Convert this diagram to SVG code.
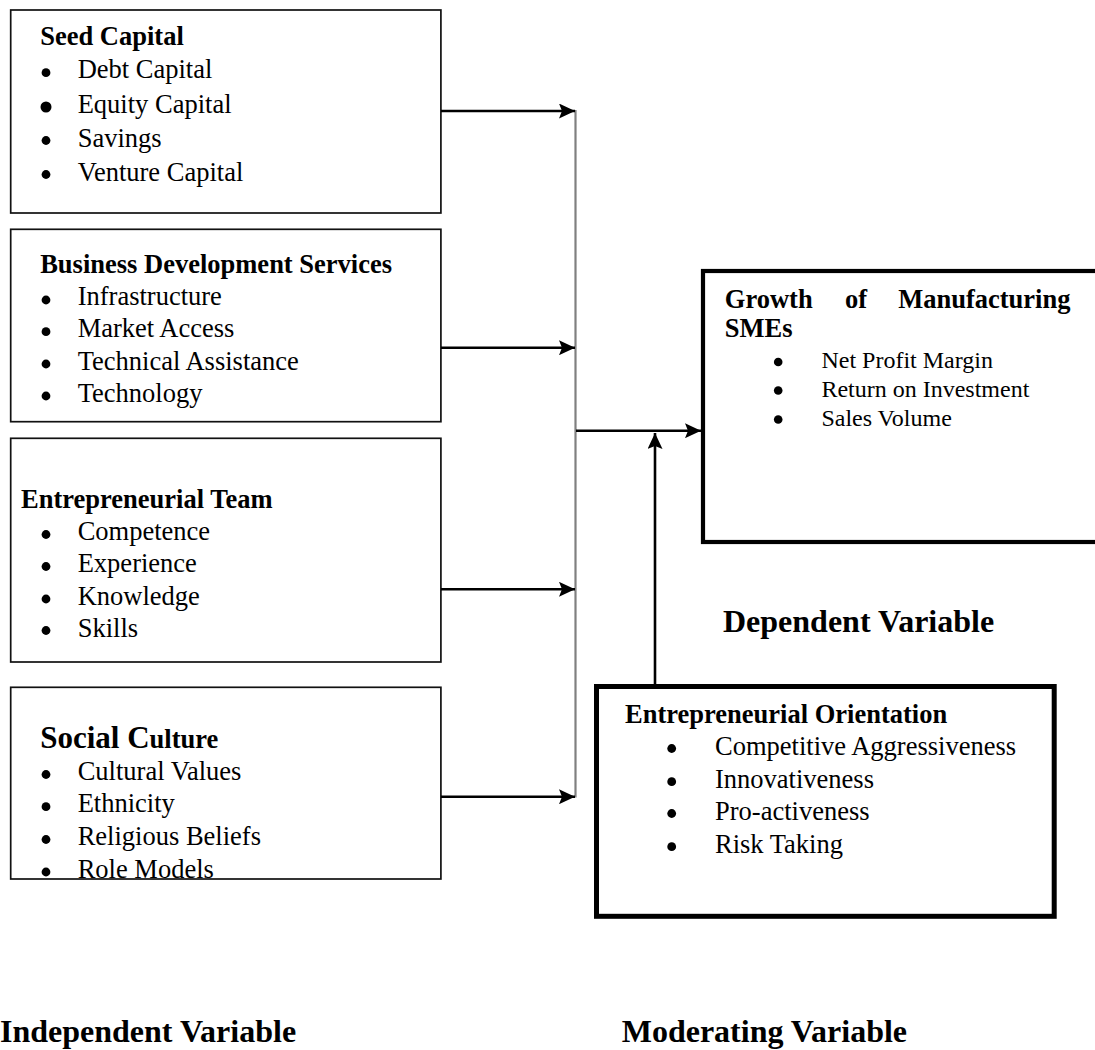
<svg xmlns="http://www.w3.org/2000/svg" width="1095" height="1050" viewBox="0 0 1095 1050">
<style>
text{font-family:"Liberation Serif","Times New Roman",serif;fill:#000}
.t{font-size:26.5px}
.b{font-size:26.5px;font-weight:bold}
.s{font-size:24px}
.h{font-size:32px;font-weight:bold}
.box{fill:#fff;stroke:#111;stroke-width:1.7}
.thick{fill:#fff;stroke:#000}
.ln{stroke:#000;stroke-width:2.6;fill:none}
.gray{stroke:#808080;stroke-width:2.2;fill:none}
circle{fill:#000}
</style>
<defs>
<marker id="ah" viewBox="0 0 16 15" refX="16" refY="7.5" markerWidth="16" markerHeight="15" markerUnits="userSpaceOnUse" orient="auto">
<path d="M0,0 L16,7.5 L0,15 L3,7.5 Z" fill="#000"/>
</marker>
<clipPath id="scClip"><rect x="10" y="687" width="431" height="192"/></clipPath>
</defs>

<g id="seed-capital">
<rect class="box" x="10.7" y="10" width="430.2" height="203"/>
<text class="b" x="40.2" y="45">Seed Capital</text>
<circle cx="46" cy="72.7" r="4.4"/><text class="t" x="77.7" y="78">Debt Capital</text>
<circle cx="46" cy="107" r="5.5"/><text class="t" x="77.7" y="113">Equity Capital</text>
<circle cx="46" cy="140.5" r="4.4"/><text class="t" x="77.7" y="147">Savings</text>
<circle cx="46" cy="174.5" r="4.4"/><text class="t" x="77.7" y="181">Venture Capital</text>
</g>

<g id="business-development-services">
<rect class="box" x="10.7" y="229.3" width="430.2" height="192.4"/>
<text class="b" x="40.2" y="272.7">Business Development Services</text>
<circle cx="46" cy="300" r="4.4"/><text class="t" x="77.7" y="305">Infrastructure</text>
<circle cx="46" cy="331.7" r="4.4"/><text class="t" x="77.7" y="337.3">Market Access</text>
<circle cx="46" cy="364" r="4.4"/><text class="t" x="77.7" y="370">Technical Assistance</text>
<circle cx="46" cy="396" r="4.4"/><text class="t" x="77.7" y="401.7">Technology</text>
</g>

<g id="entrepreneurial-team">
<rect class="box" x="10.7" y="438.3" width="430.2" height="223.7"/>
<text class="b" x="21" y="508.3">Entrepreneurial Team</text>
<circle cx="46" cy="534.5" r="4.4"/><text class="t" x="77.7" y="540">Competence</text>
<circle cx="46" cy="566.5" r="4.4"/><text class="t" x="77.7" y="571.7">Experience</text>
<circle cx="46" cy="599" r="4.4"/><text class="t" x="77.7" y="605">Knowledge</text>
<circle cx="46" cy="630.5" r="4.4"/><text class="t" x="77.7" y="636.7">Skills</text>
</g>

<g id="social-culture">
<rect class="box" x="10.7" y="687.3" width="430.2" height="191.7"/>
<text class="b" x="40.2" y="748.3"><tspan style="font-size:31px">Social C</tspan>ulture</text>
<g clip-path="url(#scClip)">
<circle cx="46" cy="774.5" r="4.4"/><text class="t" x="77.7" y="780">Cultural Values</text>
<circle cx="46" cy="806.7" r="4.4"/><text class="t" x="77.7" y="811.7">Ethnicity</text>
<circle cx="46" cy="839.5" r="4.4"/><text class="t" x="77.7" y="845">Religious Beliefs</text>
<circle cx="46" cy="872" r="4.4"/><text class="t" x="77.7" y="878">Role Models</text>
</g>
</g>

<g id="growth-of-manufacturing-smes">
<rect class="thick" x="703" y="271" width="400" height="271" stroke-width="4.2"/>
<text class="b" x="724.8" y="308.3">Growth</text>
<text class="b" x="845" y="308.3">of</text>
<text class="b" x="898.2" y="308.3">Manufacturing</text>
<text class="b" x="724.8" y="337.3">SMEs</text>
<circle cx="778.2" cy="362" r="4.3"/><text class="s" x="821.4" y="368.3">Net Profit Margin</text>
<circle cx="778.2" cy="390.5" r="4.3"/><text class="s" x="821.4" y="396.7">Return on Investment</text>
<circle cx="778.2" cy="419.5" r="4.3"/><text class="s" x="821.4" y="425.7">Sales Volume</text>
</g>

<g id="dependent-variable-label">
<text class="h" x="723" y="631.7">Dependent Variable</text>
</g>

<g id="entrepreneurial-orientation">
<rect class="thick" x="596.5" y="686.5" width="457.7" height="229.8" stroke-width="5"/>
<text class="b" x="625" y="723.3">Entrepreneurial Orientation</text>
<circle cx="671.7" cy="748.5" r="4.4"/><text class="t" x="715" y="755">Competitive Aggressiveness</text>
<circle cx="671.7" cy="781.7" r="4.4"/><text class="t" x="715" y="788.3">Innovativeness</text>
<circle cx="671.7" cy="813.5" r="4.4"/><text class="t" x="715" y="820">Pro-activeness</text>
<circle cx="671.7" cy="846.7" r="4.4"/><text class="t" x="715" y="853.3">Risk Taking</text>
</g>

<g id="independent-variable-label">
<text class="h" x="0" y="1042">Independent Variable</text>
</g>

<g id="moderating-variable-label">
<text class="h" x="621.7" y="1042">Moderating Variable</text>
</g>

<g id="connectors">
<line class="gray" x1="575.5" y1="110" x2="575.5" y2="797.5"/>
<line class="ln" x1="441" y1="111" x2="575" y2="111" marker-end="url(#ah)"/>
<line class="ln" x1="441" y1="347.7" x2="575" y2="347.7" marker-end="url(#ah)"/>
<line class="ln" x1="441" y1="589.3" x2="575" y2="589.3" marker-end="url(#ah)"/>
<line class="ln" x1="441" y1="796.7" x2="575" y2="796.7" marker-end="url(#ah)"/>
<line class="ln" x1="576" y1="430.7" x2="701" y2="430.7" marker-end="url(#ah)"/>
<line class="ln" x1="655" y1="684" x2="655" y2="433" marker-end="url(#ah)"/>
</g>
</svg>
